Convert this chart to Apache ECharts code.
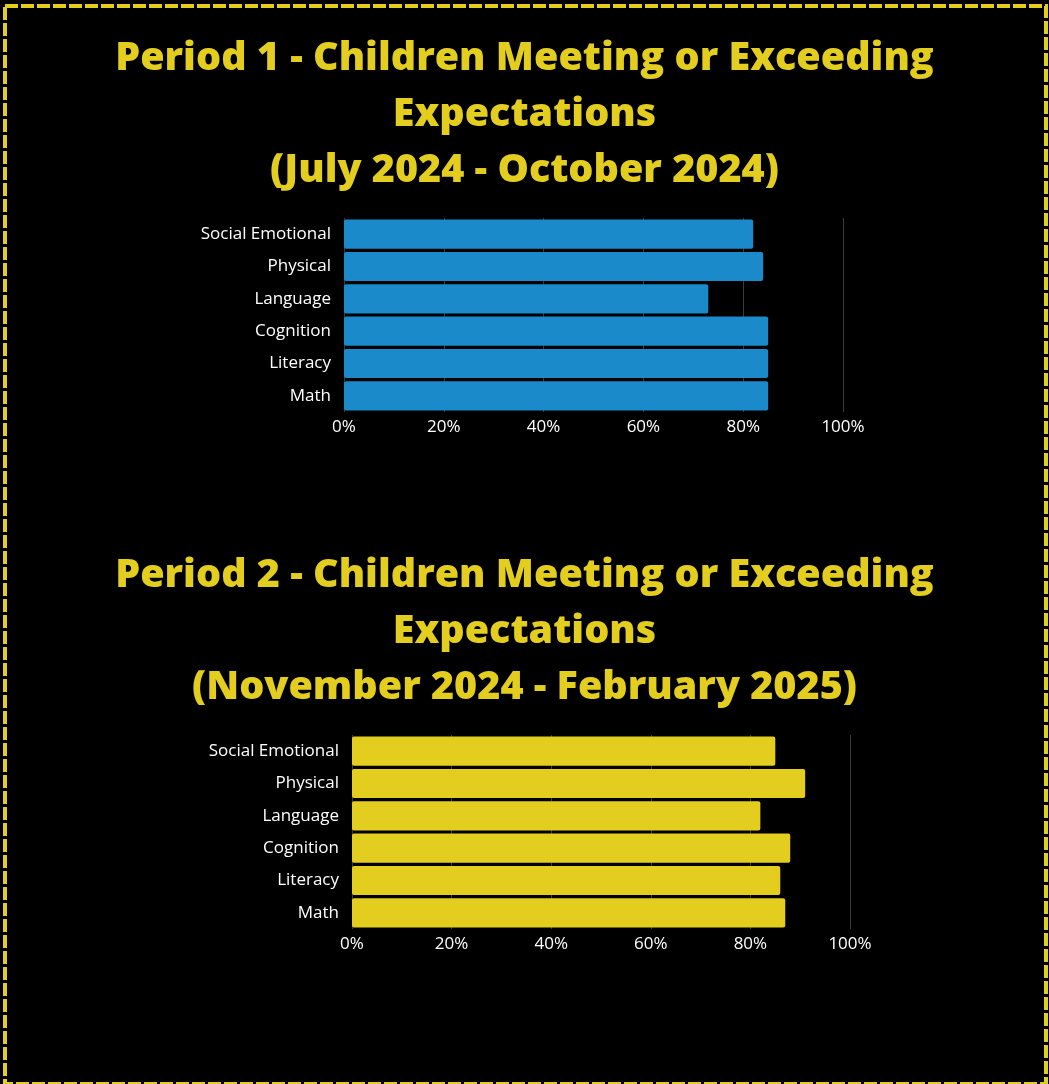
<!DOCTYPE html>
<html>
<head>
<meta charset="utf-8">
<script src="https://cdn.jsdelivr.net/npm/echarts@6/dist/echarts.min.js"></script>
<style>
  html, body { margin: 0; padding: 0; background: #000; }
  #chart { width: 1049px; height: 1084px; }
</style>
</head>
<body>
<div id="chart"></div>
<script>
var categories = ['Social Emotional', 'Physical', 'Language', 'Cognition', 'Literacy', 'Math'];
var period1Values = [82, 84, 73, 85, 85, 85];
var period2Values = [85, 91, 82, 88, 86, 87];
var xTicks = [0, 20, 40, 60, 80, 100];

var title1 = 'Period 1 - Children Meeting or Exceeding\nExpectations\n(July 2024 - October 2024)';
var title2 = 'Period 2 - Children Meeting or Exceeding\nExpectations\n(November 2024 - February 2025)';

var yellow = '#E3CD1F';
var blue = '#1A8ACB';

var myChart = echarts.init(document.getElementById('chart'));

function titleOpt(text, top) {
	return {
		text: text,
		left: 'center',
		top: top,
		textStyle: {
			color: yellow,
			fontFamily: 'Open Sans',
			fontWeight: 800,
			fontSize: 39.5,
			lineHeight: 56
		}
	};
}

function xAxisOpt(gridIndex) {
	return {
		type: 'value',
		gridIndex: gridIndex,
		min: xTicks[0],
		max: xTicks[xTicks.length - 1],
		interval: 20,
		axisLine: { show: false },
		axisTick: { show: false },
		axisLabel: {
			color: '#fff',
			fontFamily: 'Open Sans',
			fontSize: 17,
			margin: 7,
			formatter: '{value}%'
		},
		splitLine: { lineStyle: { color: '#3a3a3a', width: 1 } }
	};
}

function yAxisOpt(gridIndex) {
	return {
		type: 'category',
		gridIndex: gridIndex,
		data: categories,
		inverse: true,
		axisLine: { show: false },
		axisTick: { show: false },
		axisLabel: {
			color: '#fff',
			fontFamily: 'Open Sans',
			fontSize: 17,
			margin: 13
		}
	};
}

var option = {
	backgroundColor: '#000',
	animation: false,
	title: [titleOpt(title1, 26), titleOpt(title2, 543)],
	grid: [
		{ left: 344, top: 218, width: 499, height: 194 },
		{ left: 352, top: 735, width: 498, height: 194 }
	],
	xAxis: [xAxisOpt(0), xAxisOpt(1)],
	yAxis: [yAxisOpt(0), yAxisOpt(1)],
	series: [
		{
			type: 'bar',
			xAxisIndex: 0,
			yAxisIndex: 0,
			data: period1Values,
			barCategoryGap: '10%',
			itemStyle: { color: blue, borderRadius: 2 }
		},
		{
			type: 'bar',
			xAxisIndex: 1,
			yAxisIndex: 1,
			data: period2Values,
			barCategoryGap: '10%',
			itemStyle: { color: yellow, borderRadius: 2 }
		}
	],
	graphic: [{
		type: 'rect',
		shape: { x: 5, y: 6, width: 1041, height: 1078 },
		style: { fill: null, stroke: yellow, lineWidth: 4, lineDash: [13, 3] },
		silent: true
	}]
};

myChart.setOption(option);
</script>
</body>
</html>
